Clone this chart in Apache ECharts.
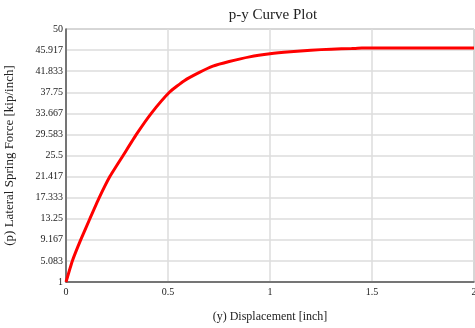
<!DOCTYPE html>
<html>
<head>
<meta charset="utf-8">
<script src="https://cdn.jsdelivr.net/npm/echarts@6/dist/echarts.min.js"></script>
<style>
    html, body { margin: 0; padding: 0; background: #fff; }
    #chart { width: 475px; height: 328px; }
</style>
</head>
<body>
<div id="chart"></div>
<script>
// displacement y [inch] and lateral spring force p [kip/inch]
var disp = [0, 0.031, 0.072, 0.117, 0.163, 0.215, 0.28, 0.345, 0.418, 0.507, 0.58, 0.654, 0.72, 0.8, 0.9, 1.0, 1.1, 1.2, 1.3, 1.4, 1.45, 1.6, 1.8, 2.0];
var force = [1, 5.083, 9.167, 13.25, 17.333, 21.417, 25.5, 29.583, 33.667, 37.75, 40.0, 41.6, 42.8, 43.7, 44.6, 45.2, 45.6, 45.9, 46.1, 46.2, 46.3, 46.3, 46.3, 46.3];
var yMin = 1, yMax = 50, ySteps = 12;
var xMax = 2, xStep = 0.5;

var points = [];
for (var i = 0; i < disp.length; i++) {
    points.push([disp[i], force[i]]);
}

var serif = '"Liberation Serif", "DejaVu Serif", serif';
var chart = echarts.init(document.getElementById('chart'));
chart.setOption({
    backgroundColor: '#fff',
    animation: false,
    title: {
        text: 'p-y Curve Plot',
        left: 268,
        textAlign: 'center',
        top: 3,
        textStyle: { fontFamily: serif, fontSize: 15, fontWeight: 'normal', color: '#222' }
    },
    grid: {
        left: 66, right: 1, top: 29, bottom: 46,
        outerBoundsMode: 'none',
        containLabel: false,
        show: true, borderColor: '#8a8a8a', borderWidth: 1
    },
    xAxis: {
        type: 'value',
        min: 0, max: xMax, interval: xStep,
        name: '(y) Displacement [inch]',
        nameLocation: 'middle',
        nameGap: 29,
        nameTextStyle: { fontFamily: serif, fontSize: 12, color: '#222' },
        axisLine: { lineStyle: { color: '#555', width: 1.5 } },
        axisTick: { show: false },
        axisLabel: { fontFamily: serif, fontSize: 10, color: '#222', margin: 5, showMaxLabel: true },
        splitLine: { lineStyle: { color: '#dcdcdc', width: 1.5 } }
    },
    yAxis: {
        type: 'value',
        min: yMin, max: yMax, interval: (yMax - yMin) / ySteps,
        name: '(p) Lateral Spring Force [kip/inch]',
        nameLocation: 'middle',
        nameGap: 50,
        nameTextStyle: { fontFamily: serif, fontSize: 13, color: '#222' },
        axisLine: { lineStyle: { color: '#555', width: 1.5 } },
        axisTick: { show: false },
        axisLabel: {
            fontFamily: serif, fontSize: 10, color: '#222', margin: 3,
            formatter: function (v) { return String(+v.toFixed(3)); }
        },
        splitLine: { lineStyle: { color: '#dcdcdc', width: 1.5 } }
    },
    series: [{
        type: 'line',
        data: points,
        showSymbol: false,
        smooth: 0.15,
        lineStyle: { color: '#ff0000', width: 3 }
    }]
});
</script>
</body>
</html>
